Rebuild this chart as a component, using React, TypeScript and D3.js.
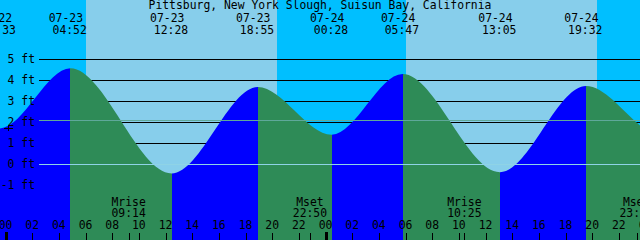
import React from "react";
import * as d3 from "d3";

const W = 640;
const H = 240;

const title = "Pittsburg, New York Slough, Suisun Bay, California";

// Tide extremes (dates MM-DD, local times, heights in ft)
const tideDates = ["07-22", "07-22", "07-23", "07-23", "07-23", "07-24", "07-24", "07-24", "07-24", "07-25", "07-25"];
const tideTimes = ["17:10", "23:33", "04:52", "12:28", "18:55", "00:28", "05:47", "13:05", "19:32", "01:20", "07:10"];
const tideHeights = [3.8, 1.72, 4.57, -0.41, 3.69, 1.43, 4.3, -0.35, 3.73, 1.35, 4.0];

// Sun (day shading)
const sunriseDates = ["07-23", "07-24"];
const sunriseTimes = ["06:02", "06:02"];
const sunsetDates = ["07-23", "07-24"];
const sunsetTimes = ["20:23", "20:23"];

// Moon events
const moonNames = ["Mrise", "Mset", "Mrise", "Mset"];
const moonDates = ["07-23", "07-23", "07-24", "07-24"];
const moonTimes = ["09:14", "22:50", "10:25", "23:20"];

const heightTicks = [-1, 0, 1, 2, 3, 4, 5];
const hourTicks = d3.range(0, 50, 2);
const meanLevel = 2.1;

const NIGHT = "#00BFFF";
const DAY = "#87CEEB";
const RISE = "#0000FF";
const FALL = "#2E8B57";
const MSL = "#5FA89A";
const DATUM = "#8FD3E6";

const FONT = "DejaVu Sans Mono, monospace";
const FS = 11.4;

function toHours(date: string, time: string): number {
  const day = parseInt(date.split("-")[1], 10) - 23;
  const [hh, mm] = time.split(":").map((s) => parseInt(s, 10));
  return day * 24 + hh + mm / 60;
}

export default function App() {
  const x = d3.scaleLinear().domain([0, 48]).range([5.5, 645.5]);
  const y = d3.scaleLinear().domain([0, 5]).range([164.8, 59.3]);
  const py = (v: number) => Math.floor(y(v)) + 0.5;

  const tide = tideHeights.map((h, i) => ({
    t: toHours(tideDates[i], tideTimes[i]),
    h,
    date: tideDates[i],
    time: tideTimes[i],
  }));

  const area = d3
    .area<{ t: number; h: number }>()
    .x((d) => x(d.t))
    .y0(H)
    .y1((d) => y(d.h))
    .curve(d3.curveMonotoneX);
  const areaPath = area(tide) || "";

  const days = sunriseDates.map((d, i) => ({
    a: toHours(d, sunriseTimes[i]),
    b: toHours(sunsetDates[i], sunsetTimes[i]),
  }));

  const moon = moonNames.map((n, i) => ({
    name: n,
    time: moonTimes[i],
    t: toHours(moonDates[i], moonTimes[i]),
  }));

  const segments = tide.slice(0, -1).map((d, i) => ({
    x0: x(d.t),
    x1: x(tide[i + 1].t),
    rising: tide[i + 1].h > d.h,
  }));

  return (
    <div style={{ position: "fixed", left: 0, top: 0 }}>
      <svg width={W} height={H} style={{ display: "block" }} fontFamily={FONT} fontSize={FS}>
        <defs>
          <clipPath id="tideClip">
            <path d={areaPath} />
          </clipPath>
        </defs>
        <rect x={0} y={0} width={W} height={H} fill={NIGHT} />
        {days.map((d, i) => (
          <rect key={i} x={x(d.a)} y={0} width={x(d.b) - x(d.a)} height={H} fill={DAY} shapeRendering="crispEdges" />
        ))}
        {heightTicks.map((v) => (
          <line key={v} x1={39} x2={W} y1={py(v)} y2={py(v)} stroke="#000" strokeWidth={1} shapeRendering="crispEdges" />
        ))}
        <g clipPath="url(#tideClip)">
          {segments.map((s, i) => (
            <rect key={i} x={s.x0} y={0} width={s.x1 - s.x0} height={H} fill={s.rising ? RISE : FALL} shapeRendering="crispEdges" />
          ))}
        </g>
        <line x1={39} x2={W} y1={py(meanLevel)} y2={py(meanLevel)} stroke={MSL} strokeWidth={1} shapeRendering="crispEdges" />
        <line x1={39} x2={W} y1={py(0)} y2={py(0)} stroke={DATUM} strokeWidth={1} shapeRendering="crispEdges" />
        {heightTicks.map((v) => (
          <text key={v} x={35} y={y(v) + 3.3} textAnchor="end" fill="#000">
            {`${v} ft`}
          </text>
        ))}
        <line x1={4} x2={13} y1={128.5} y2={128.5} stroke="#000" shapeRendering="crispEdges" />
        <line x1={8.5} x2={8.5} y1={124.5} y2={131} stroke="#000" shapeRendering="crispEdges" />
        <text x={W / 2} y={9.3} textAnchor="middle" fill="#000">
          {title}
        </text>
        {tide.map((d, i) => (
          <g key={i}>
            <text x={x(d.t) - 4.5} y={22} textAnchor="middle" fill="#000">
              {d.date}
            </text>
            <text x={x(d.t) - 0.7} y={34} textAnchor="middle" fill="#000">
              {d.time}
            </text>
          </g>
        ))}
        {moon.map((m, i) => (
          <g key={i}>
            <text x={x(m.t)} y={206} textAnchor="middle" fill="#000">
              {m.name}
            </text>
            <text x={x(m.t)} y={217} textAnchor="middle" fill="#000">
              {m.time}
            </text>
            <line x1={Math.round(x(m.t)) + 0.5} x2={Math.round(x(m.t)) + 0.5} y1={233} y2={H} stroke="#000" shapeRendering="crispEdges" />
          </g>
        ))}
        {hourTicks.map((h) => {
          const hh = h % 24;
          const xx = x(h);
          const midnight = hh === 0;
          return (
            <g key={h}>
              <text x={xx} y={229.3} textAnchor="middle" fill="#000">
                {d3.format("02d")(hh)}
              </text>
              {midnight ? (
                <rect x={Math.round(xx) - 1.5} y={232} width={3} height={8} fill="#000" shapeRendering="crispEdges" />
              ) : (
                <line x1={Math.round(xx) + 0.5} x2={Math.round(xx) + 0.5} y1={233} y2={H} stroke="#000" shapeRendering="crispEdges" />
              )}
            </g>
          );
        })}
      </svg>
    </div>
  );
}
